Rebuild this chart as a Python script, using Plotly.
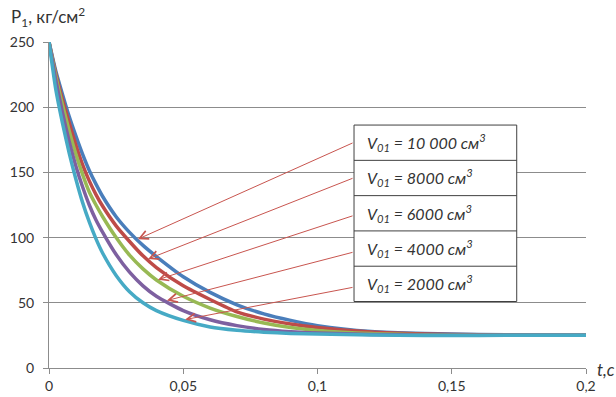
import numpy as np
import plotly.graph_objects as go

# time samples, s
t = [0, 0.0025, 0.005, 0.0075, 0.01, 0.0125, 0.015, 0.0175, 0.02, 0.025, 0.03,
     0.035, 0.04, 0.05, 0.06, 0.07, 0.08, 0.09, 0.1, 0.12, 0.14, 0.16, 0.18, 0.2]

# P1, kg/cm2 for each initial volume V01
p_10000 = [250, 228, 210, 193, 178, 164, 151.5, 141, 131.5, 116, 104,
           94, 85.5, 70, 58, 48.5, 41.5, 36.5, 32.5, 28, 26.4, 25.7, 25.3, 25.2]
p_8000 = [250, 226, 206, 188, 171, 156, 143.5, 133, 124, 109, 97,
          86, 77, 63, 52.5, 43, 37.5, 33.8, 31, 27.6, 26.1, 25.5, 25.2, 25.1]
p_6000 = [250, 224, 202, 182, 164, 148.5, 135, 125, 116, 100, 86.5,
          76, 67.5, 55, 46, 39.5, 34.5, 31, 28.8, 26.4, 25.5, 25.2, 25.1, 25.1]
p_4000 = [250, 221, 196, 174, 155, 139, 125, 113.5, 104, 87, 73.5,
          63, 55, 44, 37, 32.5, 29.5, 27.8, 26.8, 25.7, 25.2, 25.1, 25.1, 25.2]
p_2000 = [250, 214, 188, 165, 145, 127, 112, 99, 88, 71, 58.5,
          50, 44, 36.5, 31.5, 29, 27.5, 26.5, 26, 25.3, 25, 25, 25.1, 25.2]

labels = ["V<sub>01</sub> = 10 000 см<sup>3</sup>",
          "V<sub>01</sub> = 8000 см<sup>3</sup>",
          "V<sub>01</sub> = 6000 см<sup>3</sup>",
          "V<sub>01</sub> = 4000 см<sup>3</sup>",
          "V<sub>01</sub> = 2000 см<sup>3</sup>"]

# arrow targets (time on each curve)
arrow_t = [0.0331, 0.0369, 0.0406, 0.0439, 0.0507]

series = [p_10000, p_8000, p_6000, p_4000, p_2000]
colors = ["#4A7EBB", "#BE4B48", "#98B954", "#7D60A0", "#46AAC5"]

fig = go.Figure()
for ys, c in zip(series, colors):
    fig.add_trace(go.Scatter(x=t, y=ys, mode="lines",
                             line=dict(color=c, width=3.5, shape="spline", smoothing=0.6),
                             showlegend=False, hoverinfo="skip"))

font_main = "Lato, 'Open Sans', sans-serif"
txt = "#333333"
grid = "#8C8C8C"

# label box geometry (data coords)
bx0, bx1 = 0.1136, 0.1742
by_top, by_bot = 186.3, 51.0
n = len(labels)
rowh = (by_top - by_bot) / n

shapes = [dict(type="rect", xref="x", yref="y", x0=bx0, x1=bx1, y0=by_bot, y1=by_top,
               fillcolor="white", line=dict(color="#404040", width=1), layer="above")]
for i in range(1, n):
    yy = by_top - i * rowh
    shapes.append(dict(type="line", xref="x", yref="y", x0=bx0, x1=bx1, y0=yy, y1=yy,
                       line=dict(color="#404040", width=1), layer="above"))

annotations = []
tail_offsets = [0.3, 0.2, -1.6, -2.6, -2.5]
for i, (lab, ys, at) in enumerate(zip(labels, series, arrow_t)):
    yc = by_top - (i + 0.5) * rowh
    annotations.append(dict(x=bx0, y=yc, xref="x", yref="y", xanchor="left", yanchor="middle",
                            xshift=11, text="<i>" + lab + "</i>", showarrow=False,
                            font=dict(family=font_main, size=16, color=txt)))
    hy = float(np.interp(at, t, ys))
    annotations.append(dict(x=at, y=hy + 1.0, xref="x", yref="y",
                            ax=bx0, ay=yc + tail_offsets[i], axref="x", ayref="y",
                            text="", showarrow=True, arrowhead=5, arrowsize=1.7,
                            arrowwidth=1, arrowcolor="#C8554F"))

annotations.append(dict(xref="paper", yref="paper", x=-0.075, y=1.078, xanchor="left",
                        yanchor="middle", showarrow=False,
                        text="P<sub>1</sub>, кг/см<sup>2</sup>",
                        font=dict(family=font_main, size=17, color=txt)))
annotations.append(dict(xref="paper", yref="paper", x=1.016, y=-0.004, xanchor="left",
                        yanchor="middle", showarrow=False, text="<i>t,c</i>",
                        font=dict(family=font_main, size=17, color=txt)))

fig.update_layout(
    width=616, height=397,
    margin=dict(l=49, r=30, t=42, b=29, pad=0),
    paper_bgcolor="white", plot_bgcolor="white",
    separators=", ",
    shapes=shapes, annotations=annotations,
    font=dict(family=font_main, size=14, color=txt),
    xaxis=dict(range=[0, 0.2], dtick=0.05, tick0=0, showgrid=False, zeroline=False,
               showline=True, linecolor=grid, linewidth=1, automargin=False,
               ticks="outside", ticklen=5, tickcolor=grid,
               tickfont=dict(size=14, color=txt)),
    yaxis=dict(range=[0, 250], dtick=50, tick0=0, showgrid=True, gridcolor=grid, gridwidth=1,
               zeroline=False, showline=True, linecolor=grid, linewidth=1, automargin=False,
               ticks="outside", ticklen=5, tickcolor=grid, ticklabelstandoff=6,
               tickfont=dict(size=14, color=txt)),
)

fig.write_html("out.html")
